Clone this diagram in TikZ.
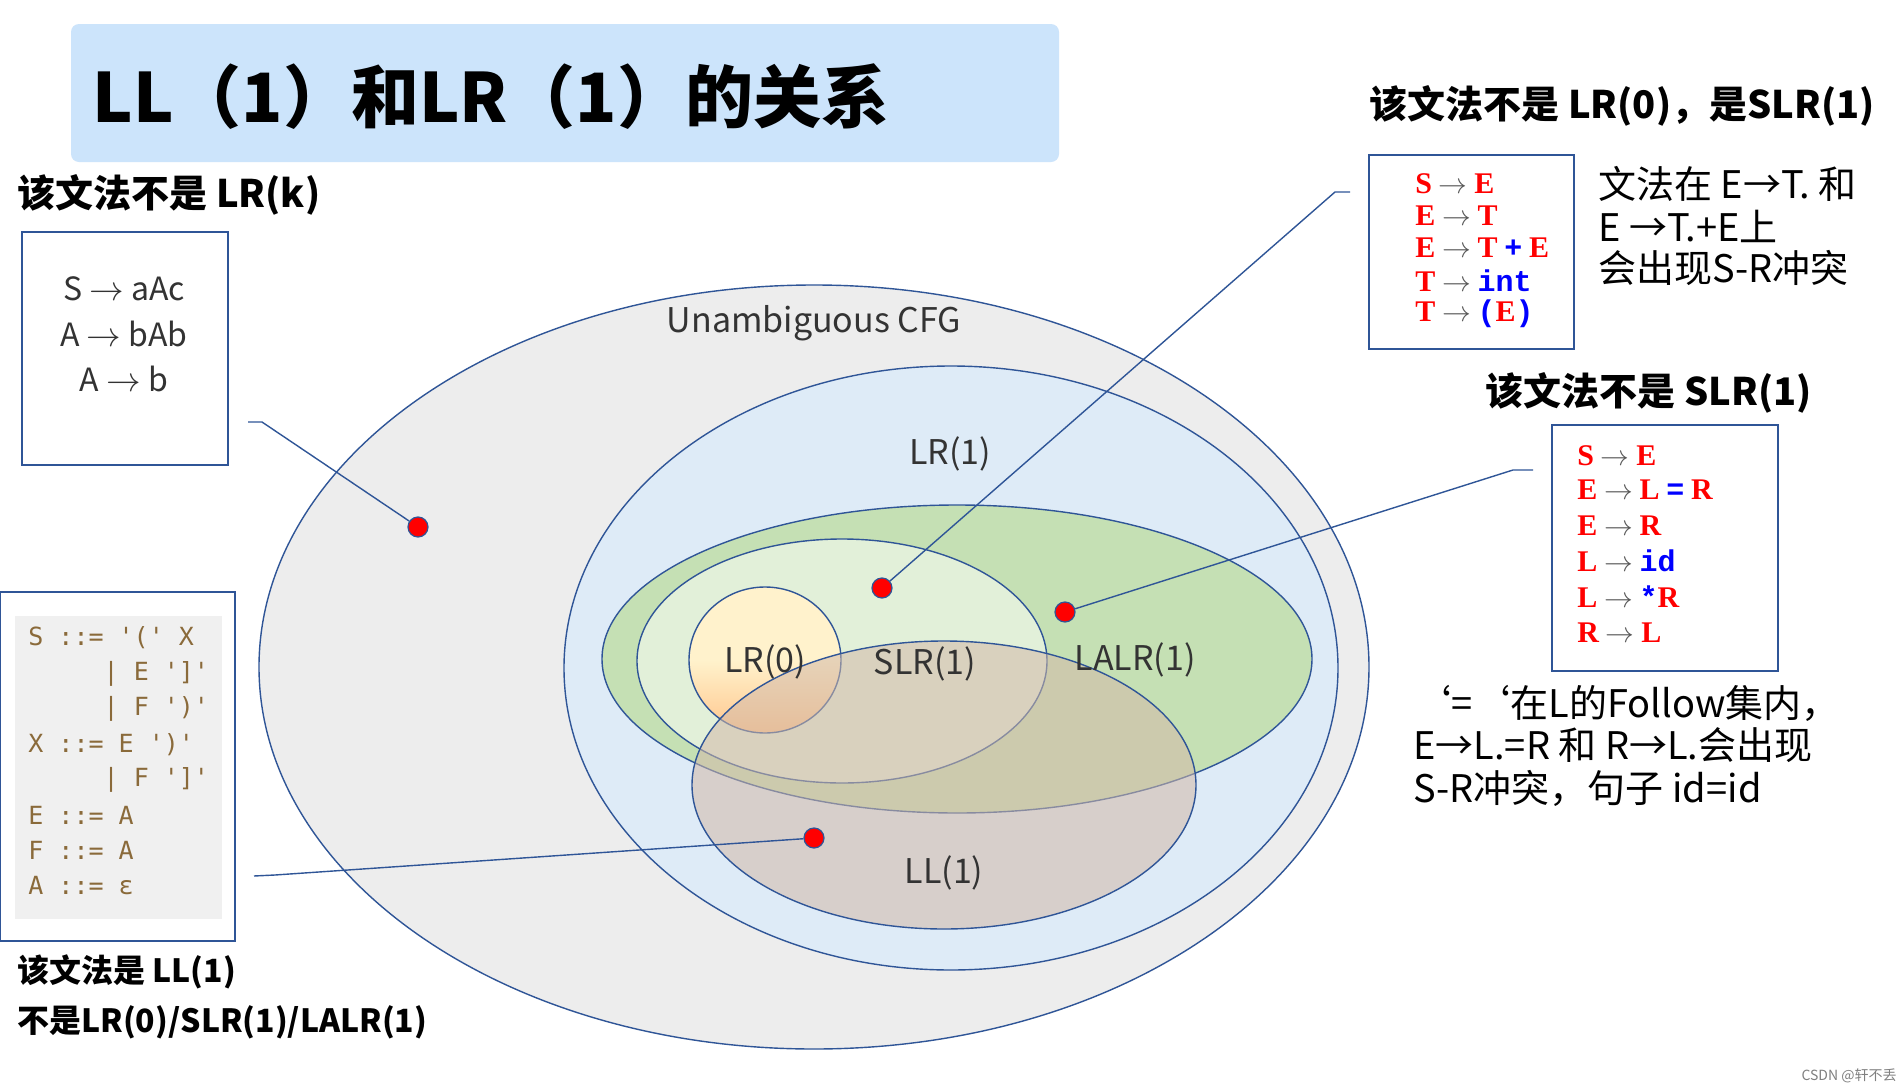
\documentclass[tikz,border=0pt]{standalone}
\usepackage{fontspec}
\setmainfont{Noto Sans CJK SC}
\newfontfamily\gserif{Liberation Serif}
\newfontfamily\gmono{Liberation Mono}
\newfontfamily\cmono{DejaVu Sans Mono}
\definecolor{bord}{HTML}{2F5597}
\definecolor{titlebg}{HTML}{CCE4FB}
\definecolor{grayfill}{HTML}{EDEDED}
\definecolor{lrone}{HTML}{DEEBF7}
\definecolor{lalr}{HTML}{C5E0B4}
\definecolor{slr}{HTML}{E2F0D9}
\definecolor{lrzero}{HTML}{FFF2CC}
\definecolor{llone}{HTML}{D2B9A8}
\definecolor{codec}{HTML}{8A6A3A}
\newcommand{\fs}[1]{\fontsize{#1}{#1}\selectfont}
\newcommand{\R}[1]{{\gserif\bfseries\color{red}#1}}
\newcommand{\B}[1]{{\gmono\bfseries\color{blue}#1}}
\newcommand{\ar}{{\color{gray!70!black}$\rightarrow$}}
\begin{document}
\begin{tikzpicture}[x=0.5pt,y=-0.5pt,
  ell/.style={draw=bord,line width=0.7pt},
  lbl/.style={font=\fs{17}, text=black!80},
  dot/.style={circle,fill=red,draw=bord,line width=0.6pt,inner sep=0pt,minimum size=10pt},
  conn/.style={draw=bord,line width=0.7pt},
  box/.style={draw=bord,line width=0.8pt,fill=white},
  head/.style={font=\fs{19}\bfseries,anchor=west,inner sep=0pt},
  txt/.style={font=\fs{19},anchor=west,inner sep=0pt},
  gl/.style={anchor=west,inner sep=0pt,font=\fs{15}},
  cl/.style={anchor=west,inner sep=0pt,font=\cmono\fs{12.5},text=codec}]
\fill[white] (0,0) rectangle (1903,1087);
\useasboundingbox (0,0) rectangle (1903,1087);
% title
\fill[titlebg,rounded corners=4pt] (71,24) rectangle (1059,162);
\node[anchor=west,font=\fs{34}\bfseries,inner sep=0pt] (title) at (92,97) {LL（1）和LR（1）的关系};
% ellipses
\draw[ell,fill=grayfill] (814,667) ellipse [x radius=555,y radius=382];
\draw[ell,fill=lrone] (951,668) ellipse [x radius=387,y radius=302];
\draw[ell,fill=lalr] (957,659) ellipse [x radius=355,y radius=154];
\draw[ell,fill=slr] (842,661) ellipse [x radius=205,y radius=122];
\draw[ell,top color=lrzero,bottom color=orange!45,middle color=lrzero] (765,660) ellipse [x radius=76,y radius=73];
\draw[ell,fill=llone,fill opacity=0.55] (944,785) ellipse [x radius=252,y radius=144];
\node[lbl] (cfg) at (814,323) {Unambiguous CFG};
\node[lbl] (lr1) at (950,454) {LR(1)};
\node[lbl] (lr0) at (765,662) {LR(0)};
\node[lbl] (slr1) at (925,664) {SLR(1)};
\node[lbl] (lalr1) at (1135,660) {LALR(1)};
\node[lbl] (ll1) at (944,873) {LL(1)};
% dots
\node[dot] (d1) at (418,527) {};
\node[dot] (d2) at (882,588) {};
\node[dot] (d3) at (1065,612) {};
\node[dot] (d4) at (814,838) {};
% LR(k) box
\node[head] (h1) at (17,195) {该文法不是 LR(k)};
\draw[box] (22,232) rectangle (228,465);
\node[font=\fs{16},text=black!80] (k1) at (124,289) {S $\rightarrow$ aAc};
\node[font=\fs{16},text=black!80] (k2) at (124,334) {A $\rightarrow$ bAb};
\node[font=\fs{16},text=black!80] (k3) at (124,379) {A $\rightarrow$ b};
\coordinate (c1a) at (248,422); \coordinate (c1b) at (262,422);
\draw[conn] (c1a) -- (c1b) -- (d1);
% LL box
\draw[box] (0,592) rectangle (235,941);
\fill[gray!12] (15,616) rectangle (222,919);
\foreach \t [count=\i] in {S ::= '(' X,{\ \ \ \ \ | E ']'},{\ \ \ \ \ | F ')'},X ::= E ')',{\ \ \ \ \ | F ']'},E ::= A,F ::= A,A ::= ε}
  \node[cl] (code\i) at (28,{638+35.4*(\i-1)}) {\t};
\node[head,font=\fs{16}\bfseries] (h4a) at (17,972) {该文法是 LL(1)};
\node[head,font=\fs{16}\bfseries] (h4b) at (17,1022) {不是LR(0)/SLR(1)/LALR(1)};
\coordinate (c4a) at (254,876); \coordinate (c4b) at (275,875);
\draw[conn] (c4a) -- (c4b) -- (d4);
% top right box
\node[head] (h2) at (1369,106) {该文法不是 LR(0)，是SLR(1)};
\draw[box] (1369,155) rectangle (1574,349);
\node[gl] (g1) at (1415,184) {\R{S} \ar{} \R{E}};
\node[gl] (g2) at (1415,216) {\R{E} \ar{} \R{T}};
\node[gl] (g3) at (1415,248) {\R{E} \ar{} \R{T} \B{+} \R{E}};
\node[gl] (g4) at (1415,281) {\R{T} \ar{} \B{int}};
\node[gl] (g5) at (1415,314) {\R{T} \ar{} \B{(}\R{E}\B{)}};
\node[txt] (t1) at (1598,184) {文法在 E→T. 和};
\node[txt] (t2) at (1598,226) {E →T.+E上};
\node[txt] (t3) at (1598,268) {会出现S-R冲突};
\coordinate (c2a) at (1350,192); \coordinate (c2b) at (1335,192);
\draw[conn] (c2a) -- (c2b) -- (d2);
% second box
\node[head] (h3) at (1485,393) {该文法不是 SLR(1)};
\draw[box] (1552,425) rectangle (1778,671);
\node[gl] (s1) at (1577,456) {\R{S} \ar{} \R{E}};
\node[gl] (s2) at (1577,490) {\R{E} \ar{} \R{L} \B{=} \R{R}};
\node[gl] (s3) at (1577,526) {\R{E} \ar{} \R{R}};
\node[gl] (s4) at (1577,561) {\R{L} \ar{} \B{id}};
\node[gl] (s5) at (1577,597) {\R{L} \ar{} \B{*}\R{R}};
\node[gl] (s6) at (1577,633) {\R{R} \ar{} \R{L}};
\node[txt] (u1) at (1413,703) {‘=‘在L的Follow集内，};
\node[txt] (u2) at (1413,745) {E→L.=R 和 R→L.会出现};
\node[txt] (u3) at (1413,788) {S-R冲突，句子 id=id};
\coordinate (c3a) at (1533,470); \coordinate (c3b) at (1513,470);
\draw[conn] (c3a) -- (c3b) -- (d3);
\node[anchor=east,font=\fs{7},text=gray,inner sep=0pt] (wm) at (1897,1076) {CSDN @轩不丢};
\end{tikzpicture}
\end{document}
